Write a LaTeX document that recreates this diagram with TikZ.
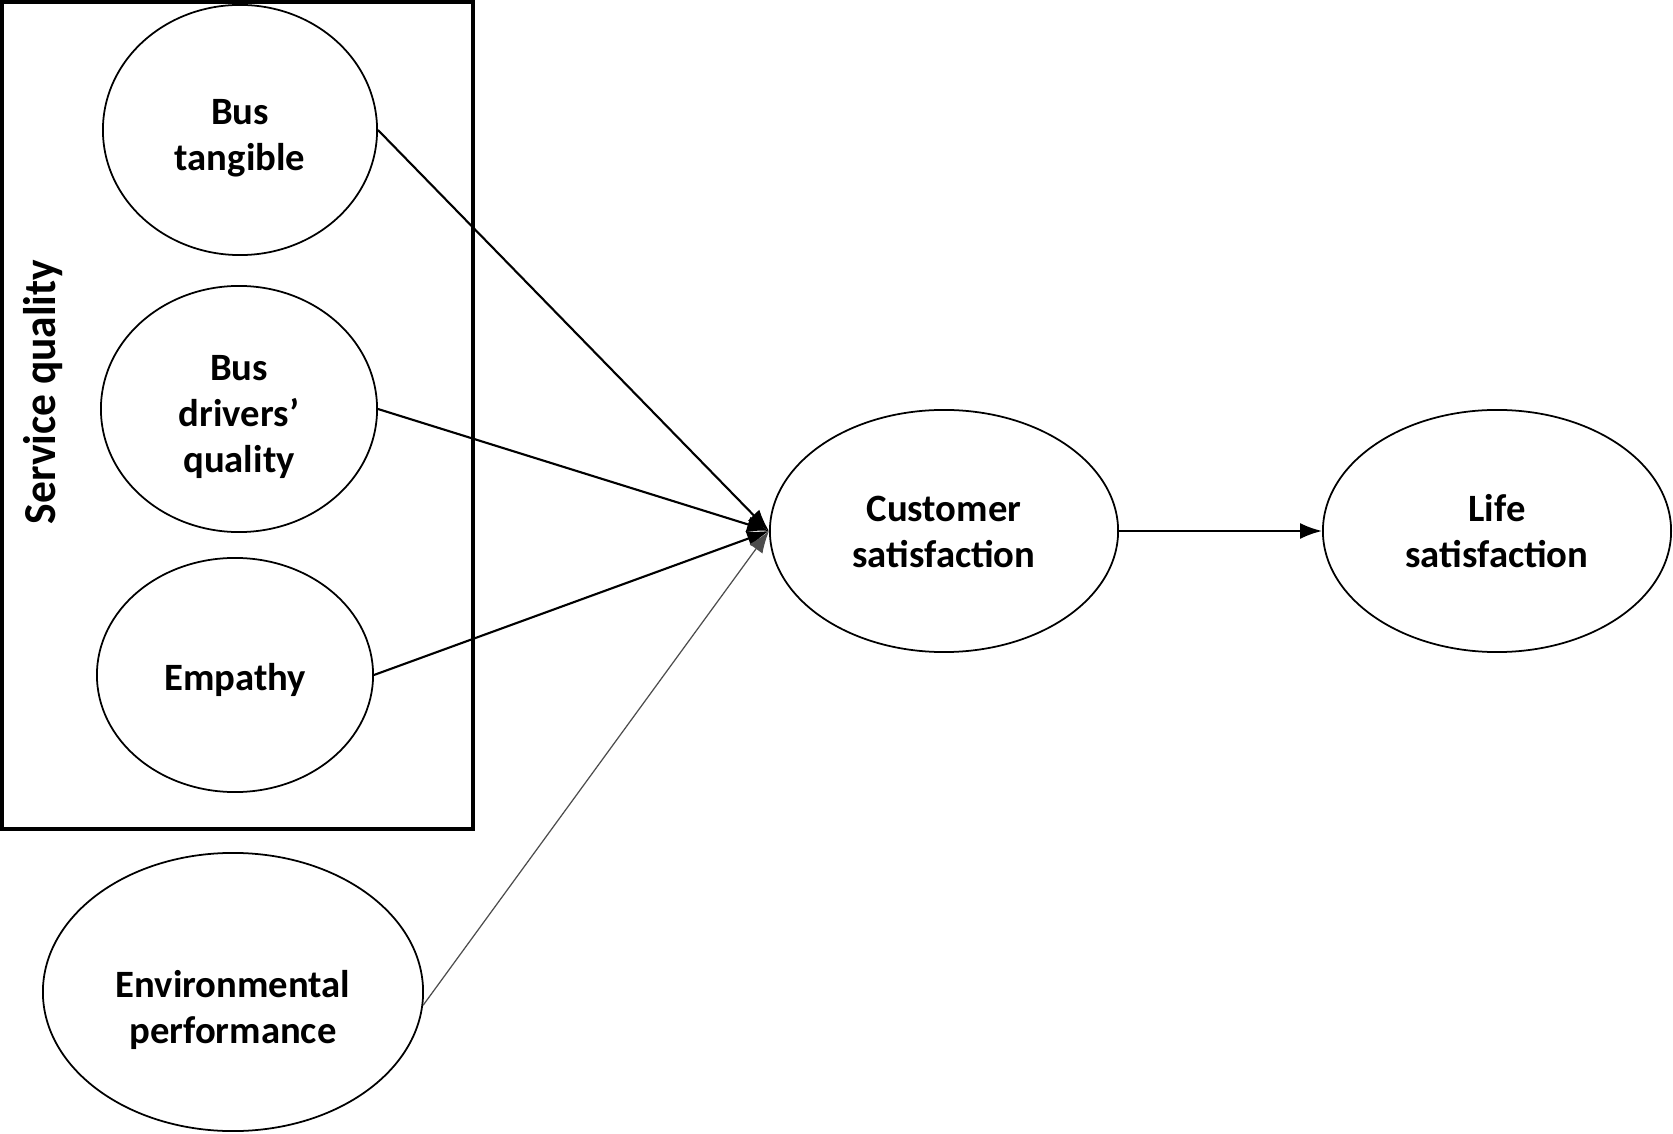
\documentclass[tikz,border=0pt]{standalone}
\usepackage{fontspec}
\setmainfont{Carlito}
\usetikzlibrary{arrows.meta, shapes.geometric}
\begin{document}
\begin{tikzpicture}
[
    x=0.01cm, y=-0.01cm,
    latent/.style={shape = ellipse, draw, line width=0.5pt, inner sep=0pt},
    txt/.style={align=center, inner sep=0pt, font=\fontsize{11}{13}\selectfont\bfseries},
    path/.style={-{Latex[length=2.2mm, width=1.6mm]}, line width=0.6pt},
    thinpath/.style={-{Latex[length=2.2mm, width=1.6mm]}, line width=0.35pt, black!70},
]
\useasboundingbox (0,0) rectangle (1673,1134);
\draw[line width=0.9pt] (2,2) rectangle (473,829);
\node[rotate=90, font=\fontsize{13}{15}\selectfont\bfseries, xscale=0.95] (sq) at (43,392) {Service quality};
% ellipses
\node[latent, minimum width=2.74cm, minimum height=2.50cm] (tangible) at (240,130) {};
\node[latent, minimum width=2.76cm, minimum height=2.46cm] (drivers) at (239,409) {};
\node[latent, minimum width=2.76cm, minimum height=2.34cm] (empathy) at (235,675) {};
\node[latent, minimum width=3.80cm, minimum height=2.78cm] (env) at (233,992) {};
\node[latent, minimum width=3.48cm, minimum height=2.42cm] (cs) at (944,531) {};
\node[latent, minimum width=3.48cm, minimum height=2.42cm] (ls) at (1497,531) {};
% labels
\node[txt] (tangible-t) at ([yshift=-0.08cm]tangible) {Bus\\tangible};
\node[txt] (drivers-t) at ([yshift=-0.08cm]drivers) {Bus\\drivers’\\quality};
\node[txt] (empathy-t) at ([yshift=-0.05cm]empathy) {Empathy};
\node[txt] (env-t) at ([yshift=-0.18cm]env) {Environmental\\performance};
\node[txt] (cs-t) at ([yshift=-0.01cm]cs) {Customer\\satisfaction};
\node[txt] (ls-t) at (ls) {Life\\satisfaction};
% paths
\draw[path] (tangible.east) -- (cs.west);
\draw[path] (drivers.east) -- (cs.west);
\draw[path] (empathy.east) -- (cs.west);
\draw[thinpath] (env.-4) -- (cs.west);
\draw[path] (cs.east) -- (ls.west);
\end{tikzpicture}
\end{document}
